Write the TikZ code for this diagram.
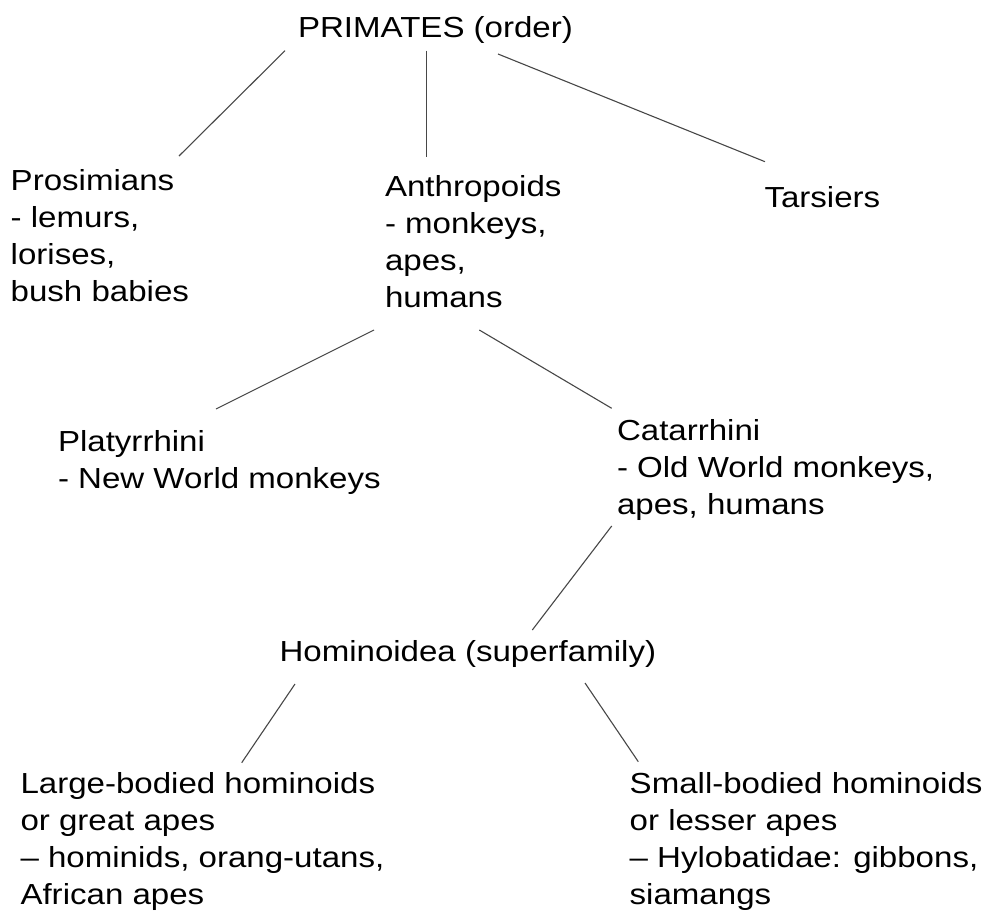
\documentclass[tikz,border=0pt]{standalone}
\usepackage{fontspec}
\setmainfont{Liberation Sans}[FakeStretch=1.14]
\newcommand\mystack[1]{\begin{tabular}[t]{@{}l@{}}#1\end{tabular}}
\begin{document}
\begin{tikzpicture}[x=1pt,y=-1pt,
  lbl/.style={anchor=base west,inner sep=0pt,outer sep=0pt,text=black,
    font=\fontsize{29}{37}\selectfont},
  conn/.style={draw=black!72,line width=1.1pt}]
\useasboundingbox (0,0) rectangle (988,913);
\fill[white] (0,0) rectangle (988,913);

\node[lbl] (prim) at (298,37.5) {PRIMATES (order)};
\node[lbl] (pros) at (10.7,190.7) {\mystack{Prosimians\\- lemurs,\\lorises,\\bush babies}};
\node[lbl] (anth) at (385,196.7) {\mystack{Anthropoids\\- monkeys,\\apes,\\humans}};
\node[lbl] (tars) at (764.5,207) {Tarsiers};
\node[lbl] (plat) at (58,451) {\mystack{Platyrrhini\\- New World monkeys}};
\node[lbl] (cat) at (617,440) {\mystack{Catarrhini\\- Old World monkeys,\\apes, humans}};
\node[lbl] (homi) at (279.5,661.7) {Hominoidea (superfamily)};
\node[lbl] (large) at (20.5,793.5) {\mystack{Large-bodied hominoids\\or great apes\\– hominids, orang-utans,\\African apes}};
\node[lbl] (small) at (629.7,793.5) {\mystack{Small-bodied hominoids\\or lesser apes\\– Hylobatidae: gibbons,\\siamangs}};

\draw[conn] ([shift={(-13,13.2)}]prim.base west) -- ([shift={(168.3,-34.7)}]pros.base west);
\draw[conn] ([shift={(128.7,13.2)}]prim.base west) -- ([shift={(41.7,-40)}]anth.base west);
\draw[conn] ([shift={(200,16.5)}]prim.base west) -- ([shift={(0.5,-45.3)}]tars.base west);
\draw[conn] ([shift={(-11,133.3)}]anth.base west) -- ([shift={(158,-42)}]plat.base west);
\draw[conn] ([shift={(94.3,133.3)}]anth.base west) -- ([shift={(-5.3,-31.7)}]cat.base west);
\draw[conn] ([shift={(-5.3,86)}]cat.base west) -- ([shift={(252.8,-31.7)}]homi.base west);
\draw[conn] ([shift={(15.5,22.3)}]homi.base west) -- ([shift={(221.2,-30.8)}]large.base west);
\draw[conn] ([shift={(305.5,21.3)}]homi.base west) -- ([shift={(8.6,-31.8)}]small.base west);
\end{tikzpicture}
\end{document}
